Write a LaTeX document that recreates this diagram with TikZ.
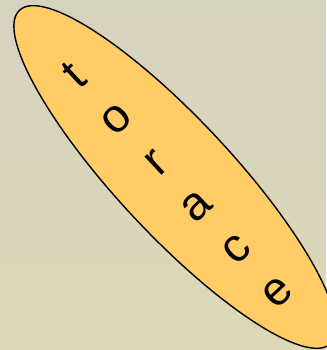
\documentclass[tikz,border=0pt]{standalone}
\usepackage{fontspec}
\setmainfont{Liberation Sans}
\usepackage{tikz}
\usetikzlibrary{shapes.geometric}
\definecolor{backtop}{HTML}{D6D2C0}
\definecolor{backbot}{HTML}{DCD8B6}
\definecolor{lozenge}{HTML}{FFCC66}

\begin{document}
\begin{tikzpicture}[
   x=1pt, y=1pt,
   blob/.style={ellipse, draw=black, line width=1.4pt, fill=lozenge, inner sep=0pt,
                minimum width=115pt, minimum height=456pt, rotate=43},
   word/.style={inner sep=0pt, align=center, rotate=43,
                font=\fontsize{47}{59}\selectfont},
]
  \shade[top color=backtop, bottom color=backbot] (0,0) rectangle (326,350);
  \useasboundingbox (0,0) rectangle (326,350);
  \node[blob] (torace) at (175,173) {};
  \node[word, xshift=-4pt, yshift=-4pt] (label) at (torace.center) {t\\o\\r\\a\\c\\e};
\end{tikzpicture}
\end{document}
